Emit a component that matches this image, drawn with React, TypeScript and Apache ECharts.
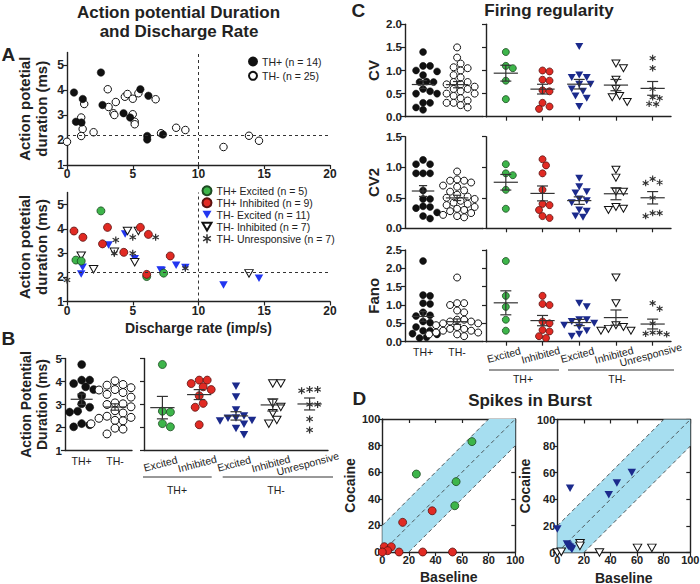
import React, { useEffect, useRef } from "react";
import * as echarts from "echarts";

const FONT = '"Liberation Sans", Arial, Helvetica, sans-serif';
const INK = "#222";

// ---------------- Panel A : [discharge rate (imp/s), AP duration (ms)]
const aTopThPos = [[0.53,3.9],[0.68,2.73],[1.1,2.7],[1.2,3.64],[2.58,4.7],[2.7,3.4],[4.3,3.07],[4.8,2.9],[5.58,4.03],[6.19,3.77],[6.1,2.16],[6.1,2.02],[7.3,2.22]];
const aTopThNeg = [[0,1.93],[1.08,2.9],[1.19,2.44],[1.08,2.16],[1.31,3.44],[2.02,2.31],[3.1,4.03],[3.16,3.32],[3.53,3.07],[3.6,3.0],[3.71,3.52],[4.4,3.73],[4.6,3.84],[5.0,3.65],[5.0,3.03],[5.15,2.73],[5.15,2.63],[5.43,3.87],[6.74,3.63],[7.15,2.27],[8.3,2.49],[9.0,2.4],[11.9,1.72],[13.84,2.17],[14.6,1.97]];
const aExcPos = [[0.68,2.71],[1.08,2.67],[2.58,4.74],[6.06,2.03],[7.35,2.17]];
const aInhPos = [[0.53,3.91],[1.21,3.65],[2.7,3.38],[3.08,4.06],[4.32,3.03],[5.58,4.06],[6.19,3.77],[6.06,2.12],[7.85,2.88]];
const aExcNeg = [[1.08,2.14],[1.19,2.41],[3.16,3.33],[4.42,3.79],[5.15,2.76],[7.12,2.3],[7.2,2.28],[8.3,2.5],[9.0,2.4],[11.9,1.68],[14.6,1.96]];
const aInhNeg = [[1.08,2.89],[2.02,2.33],[3.6,3.05],[4.6,3.91],[5.15,2.62],[5.43,3.91],[13.84,2.16]];
const aUnr = [[0,1.89],[3.6,2.99],[3.71,3.54],[5.0,3.65],[5.0,2.99],[6.74,3.65],[9.0,2.37]];
const aRefX = 10;
const aRefY = 2.2;
const aYTicks = [1, 2, 3, 4, 5];

// ---------------- Panel B : AP duration (ms)
const leftCats = ["TH+", "TH-"];
const rightCats = ["Excited", "Inhibited", "Excited", "Inhibited", "Unresponsive"];
const bThPos = [4.74,4.06,4.06,3.91,3.77,3.65,3.38,3.03,2.88,2.71,2.67,2.17,2.12,2.03];
const bThNeg = [4.03,3.87,3.84,3.73,3.65,3.63,3.52,3.44,3.32,3.07,3.03,3.0,2.9,2.73,2.63,2.49,2.44,2.4,2.31,2.29,2.17,2.16,1.97,1.93,1.72];
const bExcPos = [4.74,2.71,2.67,2.17,2.03];
const bInhPos = [4.06,4.06,3.91,3.77,3.65,3.38,3.05,2.88,2.12];
const bExcNeg = [3.79,3.33,2.76,2.5,2.41,2.4,2.3,2.28,2.14,1.96,1.68];
const bInhNeg = [3.91,3.91,3.05,2.89,2.62,2.33,2.16];
const bUnr = [3.65,3.65,3.6,3.0,3.0,2.37,1.89];

// ---------------- Panel C : firing regularity
const cvThPos = [1.4,1.1,1.1,1.0,0.98,0.9,0.76,0.75,0.75,0.6,0.55,0.5,0.5,0.3,0.3,0.2,0.15];
const cvThNeg = [1.5,1.28,1.15,1.07,1.05,1.0,0.9,0.85,0.75,0.75,0.7,0.7,0.65,0.6,0.6,0.55,0.5,0.5,0.45,0.4,0.35,0.3,0.3,0.25,0.2];
const cvExcPos = [1.4,1.1,1.05,0.78,0.38];
const cvInhPos = [1.0,0.98,0.8,0.78,0.57,0.55,0.3,0.22,0.17];
const cvExcNeg = [1.52,0.9,0.85,0.85,0.7,0.7,0.6,0.55,0.45,0.4,0.22];
const cvInhNeg = [1.15,1.05,0.8,0.6,0.45,0.42,0.32];
const cvUnr = [1.27,1.05,0.6,0.42,0.4,0.28,0.27];

const cv2ThPos = [1.12,1.05,1.05,0.9,0.9,0.9,0.62,0.48,0.48,0.36,0.35,0.33,0.26,0.2,0.16];
const cv2ThNeg = [0.93,0.8,0.78,0.78,0.75,0.7,0.68,0.62,0.6,0.55,0.52,0.5,0.48,0.45,0.42,0.4,0.38,0.35,0.32,0.3,0.28,0.25,0.22,0.2,0.18];
const cv2ExcPos = [1.05,0.9,0.87,0.63,0.32];
const cv2InhPos = [1.13,1.03,0.9,0.63,0.4,0.38,0.3,0.2,0.17];
const cv2ExcNeg = [0.82,0.68,0.6,0.58,0.48,0.45,0.42,0.3,0.28,0.2,0.18];
const cv2InhNeg = [0.96,0.83,0.6,0.6,0.35,0.32,0.3];
const cv2Unr = [0.81,0.75,0.74,0.5,0.25,0.25,0.2];

const fanoThPos = [2.2,1.27,1.25,1.05,1.03,0.8,0.72,0.7,0.55,0.52,0.4,0.3,0.3,0.22,0.2,0.12,0.1];
const fanoThNeg = [1.75,1.05,1.05,1.0,0.85,0.8,0.6,0.6,0.55,0.55,0.5,0.5,0.45,0.45,0.4,0.35,0.35,0.3,0.3,0.25,0.25,0.2,0.2,0.2,0.15];
const fanoExcPos = [2.2,1.25,0.95,0.6,0.3];
const fanoInhPos = [1.25,1.03,1.0,0.55,0.5,0.32,0.28,0.15,0.1];
const fanoExcNeg = [1.05,0.95,0.6,0.6,0.55,0.5,0.45,0.4,0.3,0.2,0.15];
const fanoInhNeg = [1.75,1.05,0.45,0.4,0.35,0.3,0.3];
const fanoUnr = [1.05,0.9,0.5,0.25,0.25,0.22,0.2];

// ---------------- Panel D : spikes in burst [baseline, cocaine]
const dExcPos = [[67.4,83],[25.6,58.6],[55.5,52.9],[54.5,34.8]];
const dInhPos = [[15.3,22.3],[37.5,31],[1.5,4],[6.8,4],[4,1],[0,0],[12.6,0],[30.4,0],[52.8,0]];
const dExcNeg = [[0,17.6],[9.6,48.4],[56,60.2],[44.8,52.2],[38.7,43.4],[7.3,6.3],[8.6,4.5],[9.6,4],[10.6,3],[8,5.5],[11,2.5]];
const dInhNeg = [[0,0],[3,0.5],[17.1,7],[17,5],[31.7,0],[60.3,3.5],[71.1,3.5]];
const dBand = 20;

// ---------------- symbols & styles
const DOWN = "path://M0,0 L10,0 L5,8.7 Z";
function makeStar(): string {
  const L = 10, w = 1.7;
  const parts: string[] = [];
  [0, 60, 120].forEach((deg) => {
    const a = (deg * Math.PI) / 180;
    const dx = Math.sin(a), dy = -Math.cos(a), nx = Math.cos(a), ny = Math.sin(a);
    const pts = [
      [L * dx + w * nx, L * dy + w * ny],
      [L * dx - w * nx, L * dy - w * ny],
      [-L * dx - w * nx, -L * dy - w * ny],
      [-L * dx + w * nx, -L * dy + w * ny],
    ];
    parts.push("M" + pts.map((p) => (p[0] + 12).toFixed(2) + "," + (p[1] + 12).toFixed(2)).join(" L") + " Z");
  });
  return "path://" + parts.join(" ");
}
const STAR = makeStar();

type St = { symbol: string; color: string; border: string; bw: number };
const S: Record<string, St> = {
  blackC: { symbol: "circle", color: "#111", border: "#111", bw: 0.5 },
  openC: { symbol: "circle", color: "#fff", border: "#111", bw: 1 },
  green: { symbol: "circle", color: "#3db54a", border: "#1d4a22", bw: 0.8 },
  red: { symbol: "circle", color: "#e12a23", border: "#5b1210", bw: 0.8 },
  blue: { symbol: DOWN, color: "#2236f0", border: "#2236f0", bw: 0 },
  navy: { symbol: DOWN, color: "#1b2a8c", border: "#1b2a8c", bw: 0 },
  openT: { symbol: DOWN, color: "#fff", border: "#111", bw: 1 },
  star: { symbol: STAR, color: "#333", border: "#333", bw: 0 },
};

function swarm(vals: number[], cat: number, pxX: number, pxY: number, d: number): number[][] {
  const order = vals.map((_, i) => i).sort((a, b) => vals[b] - vals[a]);
  const placed: { x: number; y: number }[] = [];
  const out: number[][] = new Array(vals.length);
  for (const i of order) {
    const y = vals[i] * pxY;
    let chosen = 0;
    for (let k = 0; k < 60; k++) {
      const off = (k === 0 ? 0 : (k % 2 === 1 ? 1 : -1) * Math.ceil(k / 2)) * d * 0.5;
      if (placed.every((p) => Math.hypot(p.x - off, p.y - y) >= d * 0.95)) {
        chosen = off;
        break;
      }
    }
    placed.push({ x: chosen, y });
    out[i] = [cat + chosen / pxX, vals[i]];
  }
  return out;
}

function meanSem(vals: number[]): number[] {
  const n = vals.length;
  const m = vals.reduce((a, b) => a + b, 0) / n;
  const sd = Math.sqrt(vals.reduce((a, b) => a + (b - m) * (b - m), 0) / (n - 1));
  return [m, sd / Math.sqrt(n)];
}

type RotLabel = { xi: number; yi: number; cats: string[]; yVal: number };

function buildOption(): { option: any; rot: RotLabel[]; graphic: any[] } {
  const grids: any[] = [];
  const xAxes: any[] = [];
  const yAxes: any[] = [];
  const series: any[] = [];
  const rot: RotLabel[] = [];

  const axisLine = { show: true, onZero: false, lineStyle: { color: INK, width: 1.4 } };
  const tick = (len = 4, inside = false, extra: any = {}) => ({ show: true, length: len, inside, lineStyle: { color: INK, width: 1.2 }, ...extra });
  const tl = (size: number, extra: any = {}) => ({ show: true, color: INK, fontFamily: FONT, fontWeight: "bold", fontSize: size, margin: 3, showMinLabel: true, showMaxLabel: true, ...extra });
  const nameStyle = (size: number) => ({ color: INK, fontFamily: FONT, fontWeight: "bold", fontSize: size, lineHeight: size + 2 });
  const catLabel = (cats: string[], extra: any = {}) => ({
    show: true, color: INK, fontFamily: FONT, fontSize: 10.5, margin: 5,
    showMinLabel: true, showMaxLabel: true, hideOverlap: false,
    customValues: cats.map((_, i) => i),
    formatter: (v: number) => cats[Math.round(v)] ?? "",
    ...extra,
  });

  const grid = (left: number, top: number, width: number, height: number) => {
    grids.push({ left, top, width, height, show: false, containLabel: false, outerBoundsMode: "none" });
    return grids.length - 1;
  };
  const scat = (name: string | undefined, xi: number, yi: number, data: number[][], st: St, size: any, z = 3) => ({
    type: "scatter", name, xAxisIndex: xi, yAxisIndex: yi, data, symbol: st.symbol, symbolSize: size, z,
    itemStyle: { color: st.color, borderColor: st.border, borderWidth: st.bw, opacity: 1 },
    silent: true, emphasis: { disabled: true }, animation: false,
  });
  const errSeries = (xi: number, yi: number, groups: number[][], halfW: number, capW: number) => ({
    type: "custom", xAxisIndex: xi, yAxisIndex: yi, z: 6, silent: true, animation: false,
    data: groups.map((g, i) => { const [m, s] = meanSem(g); return [i, m, s]; }),
    renderItem: (_p: any, api: any) => {
      const x = api.value(0), m = api.value(1), s = api.value(2);
      const c = api.coord([x, m]), t = api.coord([x, m + s]), b = api.coord([x, m - s]);
      const u = api.size([1, 0])[0];
      const st = { stroke: "#333", lineWidth: 1.2, fill: null };
      return {
        type: "group",
        children: [
          { type: "line", shape: { x1: c[0] - u * halfW, y1: c[1], x2: c[0] + u * halfW, y2: c[1] }, style: st },
          { type: "line", shape: { x1: c[0], y1: t[1], x2: c[0], y2: b[1] }, style: st },
          { type: "line", shape: { x1: c[0] - u * capW, y1: t[1], x2: c[0] + u * capW, y2: t[1] }, style: st },
          { type: "line", shape: { x1: c[0] - u * capW, y1: b[1], x2: c[0] + u * capW, y2: b[1] }, style: st },
        ],
      };
    },
  });

  // ---------- A top
  {
    const g = grid(67, 52.5, 263, 112.5);
    xAxes.push({ gridIndex: g, type: "value", min: 0, max: 20, interval: 5, axisLine, axisTick: tick(4), axisLabel: tl(12), splitLine: { show: false } });
    yAxes.push({
      gridIndex: g, type: "value", min: 1, max: 5.5, axisLine,
      axisTick: tick(4, false, { customValues: aYTicks }), axisLabel: tl(12, { customValues: aYTicks }), splitLine: { show: false },
      name: "Action potetial\nduration (ms)", nameLocation: "middle", nameRotate: 90, nameGap: 17, nameTextStyle: nameStyle(15),
    });
    const xi = xAxes.length - 1, yi = yAxes.length - 1;
    const ref = {
      silent: true, symbol: ["none", "none"], label: { show: false }, animation: false,
      lineStyle: { type: [3, 3], color: "#333", width: 1 },
      data: [{ xAxis: aRefX }, { yAxis: aRefY }],
    };
    series.push({ ...scat("TH- (n = 25)", xi, yi, aTopThNeg, S.openC, 7.5), markLine: ref });
    series.push(scat("TH+ (n = 14)", xi, yi, aTopThPos, S.blackC, 7.5));
  }
  // ---------- A bottom
  {
    const g = grid(67, 192.5, 263, 109);
    xAxes.push({
      gridIndex: g, type: "value", min: 0, max: 20, interval: 5, axisLine, axisTick: tick(4), axisLabel: tl(12), splitLine: { show: false },
      name: "Discharge rate (imp/s)", nameLocation: "middle", nameGap: 18, nameTextStyle: nameStyle(14),
    });
    yAxes.push({
      gridIndex: g, type: "value", min: 1, max: 5.5, axisLine,
      axisTick: tick(4, false, { customValues: aYTicks }), axisLabel: tl(12, { customValues: aYTicks }), splitLine: { show: false },
      name: "Action potetial\nduration (ms)", nameLocation: "middle", nameRotate: 90, nameGap: 17, nameTextStyle: nameStyle(15),
    });
    const xi = xAxes.length - 1, yi = yAxes.length - 1;
    const ref = {
      silent: true, symbol: ["none", "none"], label: { show: false }, animation: false,
      lineStyle: { type: [3, 3], color: "#333", width: 1 },
      data: [{ xAxis: aRefX }, { yAxis: aRefY }],
    };
    series.push({ ...scat("TH- Excited (n = 11)", xi, yi, aExcNeg, S.blue, [8.5, 7.5]), markLine: ref });
    series.push(scat("TH- Inhibited (n = 7)", xi, yi, aInhNeg, S.openT, [8.5, 7.5]));
    series.push(scat("TH- Unresponsive (n = 7)", xi, yi, aUnr, S.star, 7));
    series.push(scat("TH+ Excited (n = 5)", xi, yi, aExcPos, S.green, 8));
    series.push(scat("TH+ Inhibited (n = 9)", xi, yi, aInhPos, S.red, 8));
  }

  // ---------- B
  {
    const top = 358.5, h = 92;
    const gL = grid(65, top, 67, h);
    xAxes.push({ gridIndex: gL, type: "value", min: -0.5, max: 1.51, axisLine, axisTick: { show: false }, axisLabel: catLabel(leftCats), splitLine: { show: false } });
    yAxes.push({
      gridIndex: gL, type: "value", min: 1, max: 5, interval: 1, axisLine, axisTick: tick(4), axisLabel: tl(11.5), splitLine: { show: false },
      name: "Action Potential\nDuration (ms)", nameLocation: "middle", nameRotate: 90, nameGap: 15, nameTextStyle: nameStyle(14),
    });
    let xi = xAxes.length - 1, yi = yAxes.length - 1;
    const pxYB = h / 4;
    series.push(scat(undefined, xi, yi, swarm(bThPos, 0, 33.3, pxYB, 8), S.blackC, 8));
    series.push(scat(undefined, xi, yi, swarm(bThNeg, 1, 33.3, pxYB, 8), S.openC, 8));
    series.push(errSeries(xi, yi, [bThPos, bThNeg], 0.33, 0.13));

    const gR = grid(144, top, 184, h);
    xAxes.push({ gridIndex: gR, type: "value", min: -0.5, max: 4.5, axisLine, axisTick: { show: false }, axisLabel: { show: false }, splitLine: { show: false } });
    yAxes.push({ gridIndex: gR, type: "value", min: 1, max: 5, interval: 1, axisLine, axisTick: tick(4), axisLabel: { show: false }, splitLine: { show: false } });
    xi = xAxes.length - 1; yi = yAxes.length - 1;
    rot.push({ xi, yi, cats: rightCats, yVal: 1 });
    const px = 36.8;
    series.push(scat(undefined, xi, yi, swarm(bExcPos, 0, px, pxYB, 8), S.green, 8));
    series.push(scat(undefined, xi, yi, swarm(bInhPos, 1, px, pxYB, 8), S.red, 8));
    series.push(scat(undefined, xi, yi, swarm(bExcNeg, 2, px, pxYB, 8), S.navy, [8.5, 7.5]));
    series.push(scat(undefined, xi, yi, swarm(bInhNeg, 3, px, pxYB, 8), S.openT, [8.5, 7.5]));
    series.push(scat(undefined, xi, yi, swarm(bUnr, 4, px, pxYB, 8), S.star, 7));
    series.push(errSeries(xi, yi, [bExcPos, bInhPos, bExcNeg, bInhNeg, bUnr], 0.33, 0.15));
  }

  // ---------- C
  const cRows = [
    { top: 24.3, h: 92.4, max: 2, name: "CV", left: [cvThPos, cvThNeg], right: [cvExcPos, cvInhPos, cvExcNeg, cvInhNeg, cvUnr], labels: false },
    { top: 136.7, h: 91.6, max: 1.5, name: "CV2", left: [cv2ThPos, cv2ThNeg], right: [cv2ExcPos, cv2InhPos, cv2ExcNeg, cv2InhNeg, cv2Unr], labels: false },
    { top: 250, h: 91.7, max: 2.5, name: "Fano", left: [fanoThPos, fanoThNeg], right: [fanoExcPos, fanoInhPos, fanoExcNeg, fanoInhNeg, fanoUnr], labels: true },
  ];
  cRows.forEach((r) => {
    const pxY = r.h / r.max;
    const gL = grid(405, r.top, 78, r.h);
    xAxes.push({
      gridIndex: gL, type: "value", min: -0.53, max: 1.76, axisLine, axisTick: { show: false },
      axisLabel: r.labels ? catLabel(leftCats) : { show: false }, splitLine: { show: false },
    });
    yAxes.push({
      gridIndex: gL, type: "value", min: 0, max: r.max, interval: 0.5, axisLine, axisTick: tick(4),
      axisLabel: tl(11.5, { formatter: (v: number) => v.toFixed(1) }), splitLine: { show: false },
      name: r.name, nameLocation: "middle", nameRotate: 90, nameGap: 22, nameTextStyle: nameStyle(15),
    });
    let xi = xAxes.length - 1, yi = yAxes.length - 1;
    series.push(scat(undefined, xi, yi, swarm(r.left[0], 0, 34, pxY, 7), S.blackC, 7));
    series.push(scat(undefined, xi, yi, swarm(r.left[1], 1, 34, pxY, 7), S.openC, 7));
    series.push(errSeries(xi, yi, r.left, 0.33, 0.12));

    const gR = grid(486, r.top, 185, r.h);
    xAxes.push({
      gridIndex: gR, type: "value", min: -0.54, max: 4.5, axisLine,
      axisTick: tick(4, false, { customValues: [0, 1, 2, 3, 4] }),
      axisLabel: { show: false },
      splitLine: { show: false },
    });
    yAxes.push({ gridIndex: gR, type: "value", min: 0, max: r.max, interval: 0.5, axisLine, axisTick: tick(4), axisLabel: { show: false }, splitLine: { show: false } });
    xi = xAxes.length - 1; yi = yAxes.length - 1;
    if (r.labels) rot.push({ xi, yi, cats: rightCats, yVal: 0 });
    const px = 36.7;
    series.push(scat(undefined, xi, yi, swarm(r.right[0], 0, px, pxY, 7), S.green, 7));
    series.push(scat(undefined, xi, yi, swarm(r.right[1], 1, px, pxY, 7), S.red, 7));
    series.push(scat(undefined, xi, yi, swarm(r.right[2], 2, px, pxY, 7.5), S.navy, [8, 7]));
    series.push(scat(undefined, xi, yi, swarm(r.right[3], 3, px, pxY, 7.5), S.openT, [8, 7]));
    series.push(scat(undefined, xi, yi, swarm(r.right[4], 4, px, pxY, 7), S.star, 6.5));
    series.push(errSeries(xi, yi, r.right, 0.33, 0.15));
  });

  // ---------- D
  const dPanels = [
    { left: 382.3, top: 419, sets: [[dExcPos, S.green], [dInhPos, S.red]] },
    { left: 557.3, top: 419.5, sets: [[dInhNeg, S.openT], [dExcNeg, S.navy]] },
  ];
  dPanels.forEach((p) => {
    const g = grid(p.left, p.top, 133, 133);
    xAxes.push({
      gridIndex: g, type: "value", min: 0, max: 100, interval: 20, axisLine, axisTick: tick(4), axisLabel: tl(11, { margin: 2 }), splitLine: { show: false },
      name: "Baseline", nameLocation: "middle", nameGap: 17, nameTextStyle: nameStyle(14),
    });
    const xi = xAxes.length - 1;
    yAxes.push({
      gridIndex: g, type: "value", min: 0, max: 100, interval: 20, axisLine, axisTick: tick(4), axisLabel: tl(11, { margin: 2 }), splitLine: { show: false },
      name: "Cocaine", nameLocation: "middle", nameRotate: 90, nameGap: 21, nameTextStyle: nameStyle(14),
    });
    const yi = yAxes.length - 1;
    xAxes.push({ gridIndex: g, type: "value", position: "top", min: 0, max: 100, interval: 20, axisLine, axisTick: tick(4, true), axisLabel: { show: false }, splitLine: { show: false } });
    yAxes.push({ gridIndex: g, type: "value", position: "right", min: 0, max: 100, interval: 20, axisLine, axisTick: tick(4, true), axisLabel: { show: false }, splitLine: { show: false } });
    series.push({
      type: "custom", xAxisIndex: xi, yAxisIndex: yi, z: 1, silent: true, animation: false,
      data: [[0, 0]],
      renderItem: (_p: any, api: any) => {
        const P = (x: number, y: number) => api.coord([x, y]);
        const b = dBand;
        const dash = { stroke: "#333", lineWidth: 0.8, lineDash: [4, 3], fill: null };
        return {
          type: "group",
          children: [
            { type: "polygon", shape: { points: [P(0, 0), P(0, b), P(100 - b, 100), P(100, 100), P(100, 100 - b), P(b, 0)] }, style: { fill: "#a6def0", stroke: null } },
            { type: "line", shape: { x1: P(0, b)[0], y1: P(0, b)[1], x2: P(100 - b, 100)[0], y2: P(100 - b, 100)[1] }, style: dash },
            { type: "line", shape: { x1: P(0, 0)[0], y1: P(0, 0)[1], x2: P(100, 100)[0], y2: P(100, 100)[1] }, style: dash },
            { type: "line", shape: { x1: P(b, 0)[0], y1: P(b, 0)[1], x2: P(100, 100 - b)[0], y2: P(100, 100 - b)[1] }, style: dash },
          ],
        };
      },
    });
    p.sets.forEach(([data, st]: any) => {
      series.push(scat(undefined, xi, yi, data, st, st.symbol === DOWN ? [8.5, 7.5] : 8, 4));
    });
  });

  const txt = (text: string, x: number, y: number, size: number, bold = true, align = "center") => ({
    type: "text", x, y, silent: true,
    style: { text, fill: INK, fontFamily: FONT, fontSize: size, fontWeight: bold ? "bold" : "normal", align, verticalAlign: "middle", textAlign: align, textVerticalAlign: "middle" },
  });
  const ln = (x1: number, y1: number, x2: number, y2: number) => ({ type: "line", silent: true, shape: { x1, y1, x2, y2 }, style: { stroke: "#333", lineWidth: 1 } });

  const graphic = [
    txt("Action potential Duration", 178.5, 12, 17),
    txt("and Discharge Rate", 179, 31.5, 17),
    txt("A", 1.5, 54, 19, true, "left"),
    txt("B", 1.5, 338, 19, true, "left"),
    txt("C", 351.5, 10, 19, true, "left"),
    txt("D", 352.5, 398.5, 19, true, "left"),
    txt("Firing regularity", 549, 10.5, 17),
    txt("Spikes in Burst", 530, 400, 17),
    ln(143, 477, 211.7, 477),
    ln(222.7, 477, 333, 477),
    txt("TH+", 177, 490, 10.5, false),
    txt("TH-", 276, 490, 10.5, false),
    ln(489, 370, 559, 370),
    ln(568, 370, 674, 370),
    txt("TH+", 523, 379, 10.5, false),
    txt("TH-", 617, 379, 10.5, false),
  ];

  const legendText = { fontFamily: FONT, fontSize: 10.5, color: INK, lineHeight: 12 };
  const option = {
    animation: false,
    backgroundColor: "#fff",
    textStyle: { fontFamily: FONT },
    grid: grids,
    xAxis: xAxes,
    yAxis: yAxes,
    series,
    graphic,
    legend: [
      {
        data: ["TH+ (n = 14)", "TH- (n = 25)"], orient: "vertical", left: 248, top: 55.5, padding: 0,
        itemWidth: 8, itemHeight: 8, itemGap: 2.3, selectedMode: false, textStyle: legendText,
      },
      {
        data: ["TH+ Excited (n = 5)", "TH+ Inhibited (n = 9)", "TH- Excited (n = 11)", "TH- Inhibited (n = 7)", "TH- Unresponsive (n = 7)"],
        orient: "vertical", left: 201.5, top: 184.7, padding: 0,
        itemWidth: 9, itemHeight: 9, itemGap: 0, selectedMode: false, textStyle: legendText,
      },
    ],
  };
  return { option, rot, graphic };
}

export default function App() {
  const ref = useRef<HTMLDivElement>(null);
  useEffect(() => {
    const chart = echarts.init(ref.current!, null, { renderer: "svg" });
    const { option, rot, graphic } = buildOption();
    chart.setOption(option);
    // rotated category labels placed through the axes' own scales
    const extra: any[] = [];
    rot.forEach((r) => {
      r.cats.forEach((c, i) => {
        const p = chart.convertToPixel({ xAxisIndex: r.xi, yAxisIndex: r.yi } as any, [i, r.yVal]) as number[];
        extra.push({
          type: "text", x: p[0] - 2, y: p[1] + 13, rotation: (15 * Math.PI) / 180, silent: true,
          style: { text: c, fill: INK, fontFamily: FONT, fontSize: 10.5, align: "center", verticalAlign: "middle", textAlign: "center", textVerticalAlign: "middle" },
        });
      });
    });
    chart.setOption({ graphic: [...graphic, ...extra] });
    return () => chart.dispose();
  }, []);
  return (
    <div
      ref={ref}
      style={{ position: "absolute", left: 0, top: 0, width: 700, height: 584, background: "#fff" }}
    />
  );
}
